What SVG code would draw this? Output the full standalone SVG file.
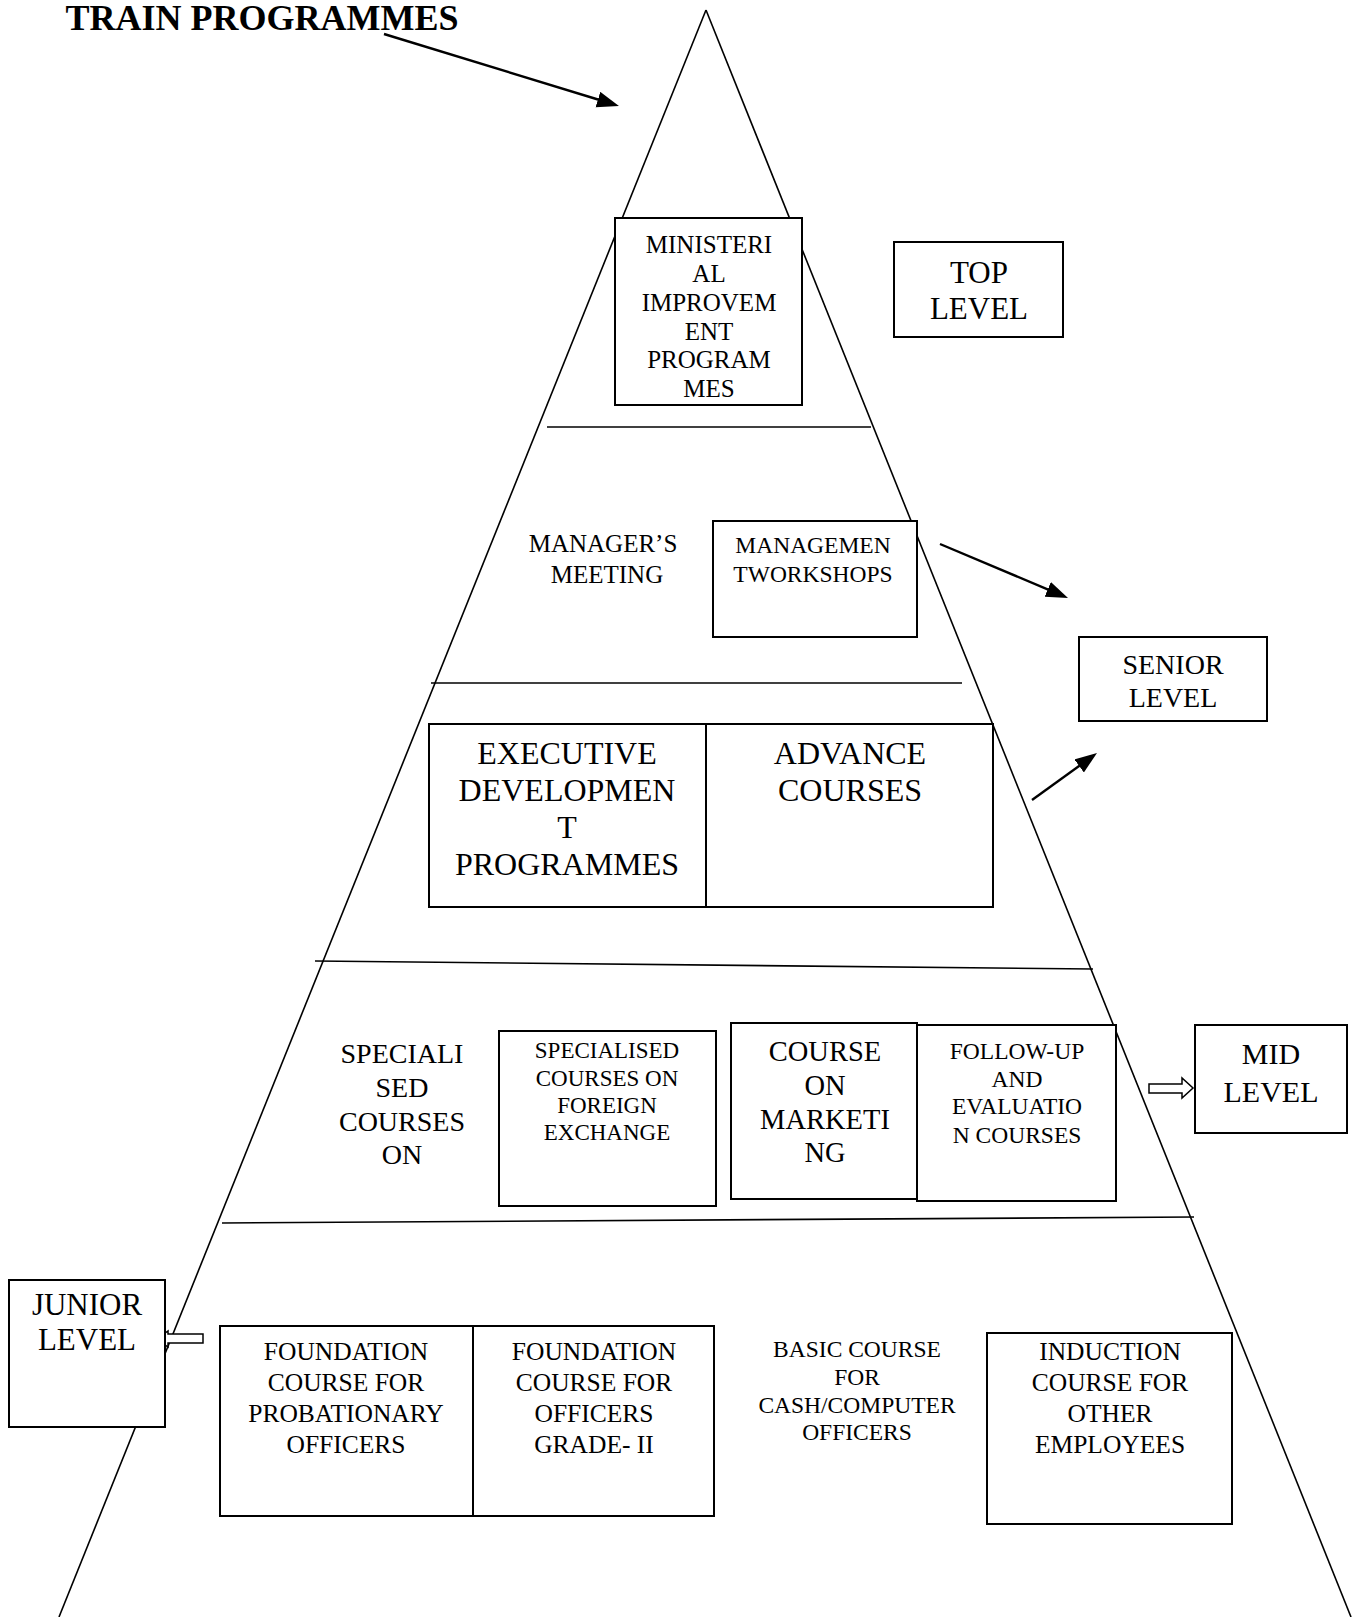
<svg xmlns="http://www.w3.org/2000/svg" width="1356" height="1617" viewBox="0 0 1356 1617">
<style>
text{font-family:"Liberation Serif","Times New Roman",serif;fill:#000;text-anchor:middle}
.box{fill:#fff;stroke:#000;stroke-width:2}
.ln{stroke:#000;stroke-width:1.6;fill:none}
.arr{stroke:#000;stroke-width:2.4;fill:none}
.hollow{fill:#fff;stroke:#000;stroke-width:1.5}
</style>
<defs>
<marker id="ah" markerUnits="userSpaceOnUse" markerWidth="24" markerHeight="18" refX="12" refY="8" orient="auto">
<path d="M0,0 L22,8 L0,16 z" fill="#000"/>
</marker>
</defs>
<rect width="1356" height="1617" fill="#fff"/>

<g id="pyramid">
<line class="ln" x1="706" y1="10" x2="59" y2="1617"/>
<line class="ln" x1="706" y1="10" x2="1351" y2="1617"/>
<line class="ln" x1="547" y1="427" x2="871" y2="427"/>
<line class="ln" x1="431" y1="683" x2="962" y2="683"/>
<line class="ln" x1="315" y1="961" x2="1093" y2="969"/>
<line class="ln" x1="222" y1="1223" x2="1194" y2="1217"/>
</g>

<g id="title">
<text x="262" y="30" style="font-weight:bold;font-size:36px">TRAIN PROGRAMMES</text>
</g>

<g id="connectors">
<line class="arr" x1="384" y1="34" x2="609.4" y2="103" marker-end="url(#ah)"/>
<line class="arr" x1="940" y1="544" x2="1058.8" y2="594.1" marker-end="url(#ah)"/>
<line class="arr" x1="1032" y1="800" x2="1088.9" y2="758.9" marker-end="url(#ah)"/>
<polygon class="hollow" points="1149,1084 1182,1084 1182,1078 1193,1088 1182,1098 1182,1093 1149,1093"/>
<polygon class="hollow" points="203,1334 168,1334 168,1331 157,1339 168,1347 168,1343 203,1343"/>
</g>

<g id="ministerial">
<rect class="box" x="615" y="218" width="187" height="187"/>
<text x="709" style="font-size:25px"><tspan x="709" y="253">MINISTERI</tspan><tspan x="709" y="282">AL</tspan><tspan x="709" y="311">IMPROVEM</tspan><tspan x="709" y="340">ENT</tspan><tspan x="709" y="368">PROGRAM</tspan><tspan x="709" y="397">MES</tspan></text>
</g>

<g id="top-level">
<rect class="box" x="894" y="242" width="169" height="95"/>
<text style="font-size:31px"><tspan x="979" y="283">TOP</tspan><tspan x="979" y="319">LEVEL</tspan></text>
</g>

<g id="managers-meeting">
<text style="font-size:25px"><tspan x="603" y="552">MANAGER’S</tspan><tspan x="607" y="583">MEETING</tspan></text>
</g>

<g id="management-workshops">
<rect class="box" x="713" y="521" width="204" height="116"/>
<text style="font-size:23.5px"><tspan x="813" y="553">MANAGEMEN</tspan><tspan x="813" y="582">TWORKSHOPS</tspan></text>
</g>

<g id="senior-level">
<rect class="box" x="1079" y="637" width="188" height="84"/>
<text style="font-size:28px"><tspan x="1173" y="674">SENIOR</tspan><tspan x="1173" y="707">LEVEL</tspan></text>
</g>

<g id="executive-advance">
<rect class="box" x="429" y="724" width="564" height="183"/>
<line class="ln" x1="706" y1="724" x2="706" y2="907" style="stroke-width:2"/>
<text style="font-size:32px"><tspan x="567" y="764">EXECUTIVE</tspan><tspan x="567" y="801">DEVELOPMEN</tspan><tspan x="567" y="838">T</tspan><tspan x="567" y="875">PROGRAMMES</tspan></text>
<text style="font-size:32px"><tspan x="850" y="764">ADVANCE</tspan><tspan x="850" y="801">COURSES</tspan></text>
</g>

<g id="specialised-courses-on">
<text style="font-size:28px"><tspan x="402" y="1063">SPECIALI</tspan><tspan x="402" y="1097">SED</tspan><tspan x="402" y="1131">COURSES</tspan><tspan x="402" y="1164">ON</tspan></text>
</g>

<g id="foreign-exchange">
<rect class="box" x="499" y="1031" width="217" height="175"/>
<text style="font-size:23px"><tspan x="607" y="1058">SPECIALISED</tspan><tspan x="607" y="1086">COURSES ON</tspan><tspan x="607" y="1113">FOREIGN</tspan><tspan x="607" y="1140">EXCHANGE</tspan></text>
</g>

<g id="marketing">
<rect class="box" x="731" y="1023" width="186" height="176"/>
<text style="font-size:28.5px"><tspan x="825" y="1061">COURSE</tspan><tspan x="825" y="1095">ON</tspan><tspan x="825" y="1129">MARKETI</tspan><tspan x="825" y="1162">NG</tspan></text>
</g>

<g id="follow-up">
<rect class="box" x="917" y="1025" width="199" height="176"/>
<text style="font-size:23.5px"><tspan x="1017" y="1059">FOLLOW-UP</tspan><tspan x="1017" y="1087">AND</tspan><tspan x="1017" y="1114">EVALUATIO</tspan><tspan x="1017" y="1143">N COURSES</tspan></text>
</g>

<g id="mid-level">
<rect class="box" x="1195" y="1025" width="152" height="108"/>
<text style="font-size:30px"><tspan x="1271" y="1064">MID</tspan><tspan x="1271" y="1102">LEVEL</tspan></text>
</g>

<g id="junior-level">
<rect class="box" x="9" y="1280" width="156" height="147"/>
<text style="font-size:31px"><tspan x="87" y="1315">JUNIOR</tspan><tspan x="87" y="1350">LEVEL</tspan></text>
</g>

<g id="foundation">
<rect class="box" x="220" y="1326" width="494" height="190"/>
<line class="ln" x1="473" y1="1326" x2="473" y2="1516" style="stroke-width:2"/>
<text style="font-size:25.5px"><tspan x="346" y="1360">FOUNDATION</tspan><tspan x="346" y="1391">COURSE FOR</tspan><tspan x="346" y="1422">PROBATIONARY</tspan><tspan x="346" y="1453">OFFICERS</tspan></text>
<text style="font-size:25.5px"><tspan x="594" y="1360">FOUNDATION</tspan><tspan x="594" y="1391">COURSE FOR</tspan><tspan x="594" y="1422">OFFICERS</tspan><tspan x="594" y="1453">GRADE- II</tspan></text>
</g>

<g id="basic-course">
<text style="font-size:23.5px"><tspan x="857" y="1357">BASIC COURSE</tspan><tspan x="857" y="1385">FOR</tspan><tspan x="857" y="1413">CASH/COMPUTER</tspan><tspan x="857" y="1440">OFFICERS</tspan></text>
</g>

<g id="induction">
<rect class="box" x="987" y="1333" width="245" height="191"/>
<text style="font-size:25.5px"><tspan x="1110" y="1360">INDUCTION</tspan><tspan x="1110" y="1391">COURSE FOR</tspan><tspan x="1110" y="1422">OTHER</tspan><tspan x="1110" y="1453">EMPLOYEES</tspan></text>
</g>
</svg>
